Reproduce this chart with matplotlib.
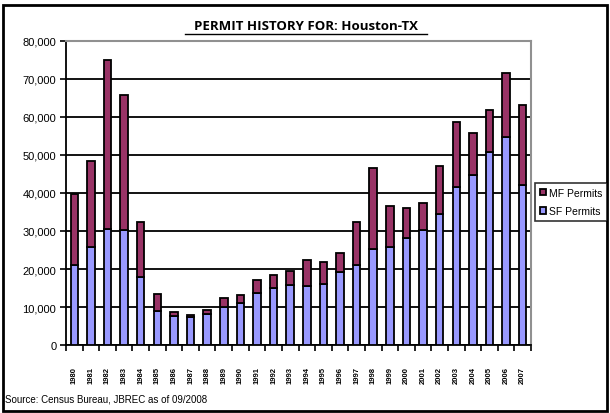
import matplotlib
matplotlib.use("Agg")
import matplotlib.pyplot as plt
import numpy as np
from matplotlib.patches import Rectangle

years = [str(y) for y in range(1980, 2008)]
sf_permits = [21.1, 25.7, 30.6, 30.3, 17.9, 9.0, 7.7, 7.5, 8.2, 10.0,
              11.0, 13.7, 14.9, 15.8, 15.6, 16.1, 19.3, 21.1, 25.3, 25.7,
              28.2, 30.2, 34.6, 41.7, 44.8, 50.9, 54.7, 42.2]
total_permits = [39.7, 48.5, 75.1, 65.8, 32.5, 13.5, 8.7, 7.8, 9.3, 12.4,
                 13.2, 17.2, 18.5, 19.6, 22.4, 21.8, 24.2, 32.4, 46.7, 36.7,
                 36.0, 37.5, 47.0, 58.6, 55.8, 61.9, 71.6, 63.2]

sf = np.array(sf_permits) * 1000
mf = np.array(total_permits) * 1000 - sf

plt.rcParams["font.family"] = ["Liberation Sans", "DejaVu Sans"]

fig = plt.figure(figsize=(6.1, 4.14), dpi=100)
ax = fig.add_axes([66 / 610, 1 - 346 / 414, 465 / 610, 304 / 414])

x = np.arange(len(years))
w = 0.45
ax.bar(x, sf, w, color="#9999FF", edgecolor="black", linewidth=1.3,
       label="SF Permits", zorder=3)
ax.bar(x, mf, w, bottom=sf, color="#993366", edgecolor="black",
       linewidth=1.3, label="MF Permits", zorder=3)

ax.set_xlim(-0.5, len(years) - 0.5)
ax.set_ylim(0, 80000)
ax.set_yticks(range(0, 80001, 10000))
ax.set_yticklabels([f"{v:,}" for v in range(0, 80001, 10000)], fontsize=8)
ax.yaxis.grid(True, color="black", linewidth=1.3, zorder=1)
ax.set_axisbelow(True)

ax.set_xticks(np.arange(-0.5, len(years), 1.0))
ax.set_xticklabels([])
ax.tick_params(axis="x", direction="out", length=4, width=1.2)
ax.tick_params(axis="y", direction="out", length=4, width=1.2, pad=3)
# year labels, small and rotated, centred below each bar
for i, yr in enumerate(years):
    ax.annotate(yr, xy=(i, 0), xycoords="data", xytext=(0, -29),
                textcoords="offset pixels", rotation=90, fontsize=5.5,
                fontweight="bold", ha="center", va="center",
                annotation_clip=False)

ax.spines["left"].set_linewidth(1.3)
ax.spines["bottom"].set_linewidth(1.3)
for side in ("right", "top"):
    ax.spines[side].set_color("#909090")
    ax.spines[side].set_linewidth(1.5)

fig.text(306 / 610, 1 - 27 / 414, "PERMIT HISTORY FOR: Houston-TX",
         ha="center", va="center", fontsize=9.5, fontweight="bold",
         family=["Open Sans", "DejaVu Sans"])
fig.add_artist(plt.Line2D([185 / 610, 427 / 610], [1 - 35 / 414, 1 - 35 / 414],
                          color="black", linewidth=1.0))

handles, labels = ax.get_legend_handles_labels()
leg = fig.legend(handles[::-1], labels[::-1], loc="center left",
                 bbox_to_anchor=(535 / 610, 1 - 203 / 414), fontsize=7.5,
                 frameon=True, fancybox=False, edgecolor="black",
                 handlelength=0.6, handleheight=0.6, handletextpad=0.3,
                 borderpad=0.45, labelspacing=0.85, borderaxespad=0)
leg.get_frame().set_linewidth(1.2)

fig.text(5 / 610, 1 - 400 / 414, "Source: Census Bureau, JBREC as of 09/2008",
         ha="left", va="center", fontsize=7)

fig.add_artist(Rectangle((3 / 610, 2 / 414), 604 / 610, 406 / 414,
                         fill=False, edgecolor="black", linewidth=2,
                         transform=fig.transFigure))

fig.savefig("out.png", dpi=100)
